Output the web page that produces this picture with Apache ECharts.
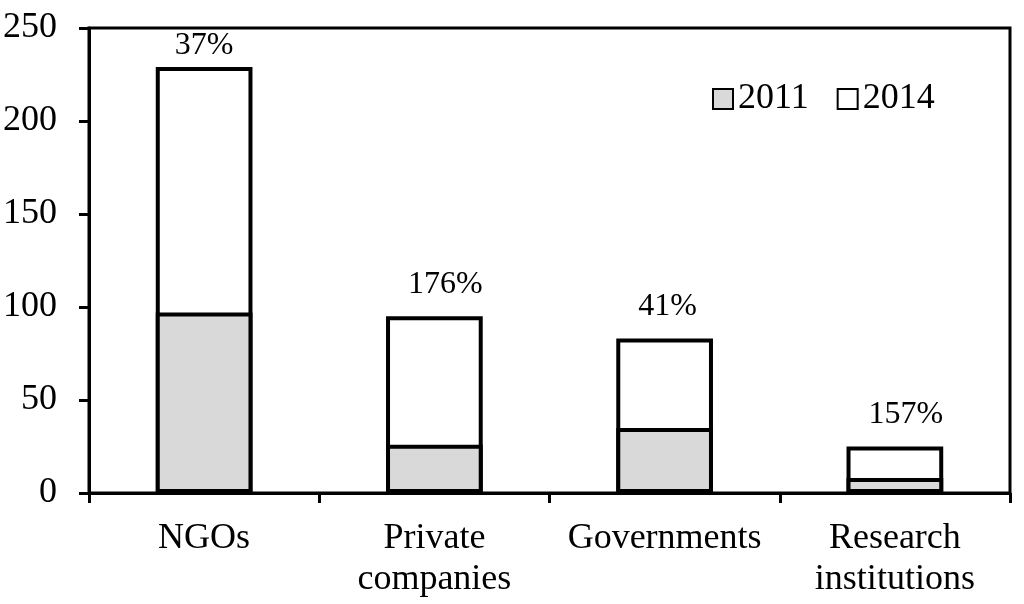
<!DOCTYPE html>
<html>
<head>
<meta charset="utf-8">
<script src="https://cdn.jsdelivr.net/npm/echarts@6/dist/echarts.min.js"></script>
<style>html,body{margin:0;padding:0;background:#fff}#c{width:1024px;height:604px}</style>
</head>
<body>
<div id="c"></div>
<script>
const categories = ['NGOs', 'Private\ncompanies', 'Governments', 'Research\ninstitutions'];
const values2011 = [97, 26, 35, 8];
const values2014 = [229, 95, 83, 25];
const growthLabels = ['37%', '176%', '41%', '157%'];
const yTicks = [0, 50, 100, 150, 200, 250];

const FONT = '"Liberation Serif", "Times New Roman", serif';
const FS = 36;
const chart = echarts.init(document.getElementById('c'), null, {renderer: 'canvas'});
chart.setOption({
  animation: false,
  backgroundColor: '#fff',
  textStyle: {fontFamily: FONT, color: '#000'},
  grid: {left: 88, right: 14, top: 28, bottom: 111, show: true, borderColor: '#000', borderWidth: 3},
  legend: {
    data: ['2011', '2014'],
    icon: 'rect',
    left: 707, top: 76,
    itemWidth: 20, itemHeight: 20, itemGap: 28,
    textStyle: {fontFamily: FONT, fontSize: FS, color: '#000'}
  },
  xAxis: {
    type: 'category',
    data: categories,
    axisLine: {lineStyle: {color: '#000', width: 3}},
    axisTick: {show: true, interval: 0, length: 10, lineStyle: {color: '#000', width: 3}},
    axisLabel: {interval: 0, fontFamily: FONT, fontSize: FS, color: '#000', margin: 25, lineHeight: 41}
  },
  yAxis: {
    type: 'value',
    min: yTicks[0], max: yTicks[yTicks.length - 1], interval: 50,
    splitLine: {show: false},
    axisLine: {show: true, lineStyle: {color: '#000', width: 3}},
    axisTick: {show: true, length: 10, lineStyle: {color: '#000', width: 3}},
    axisLabel: {fontFamily: FONT, fontSize: FS, color: '#000', margin: 32}
  },
  series: [
    {
      name: '2014', type: 'bar',
      data: values2014.map((v, i) => {
        if (i === 0) return {value: v, label: {distance: 5}};
        if (i === 1 || i === 3) return {value: v, label: {offset: [11, 0]}};
        return {value: v, label: {offset: [3, 0]}};
      }),
      barWidth: '42%', barGap: '-100%',
      itemStyle: {color: '#fff', borderColor: '#000', borderWidth: 4},
      label: {
        show: true, position: 'top', distance: 16,
        fontFamily: FONT, fontSize: 32, color: '#000',
        formatter: p => growthLabels[p.dataIndex]
      }
    },
    {
      name: '2011', type: 'bar', data: values2011, barWidth: '42%', barGap: '-100%',
      itemStyle: {color: '#d9d9d9', borderColor: '#000', borderWidth: 4}
    }
  ]
});
</script>
</body>
</html>
